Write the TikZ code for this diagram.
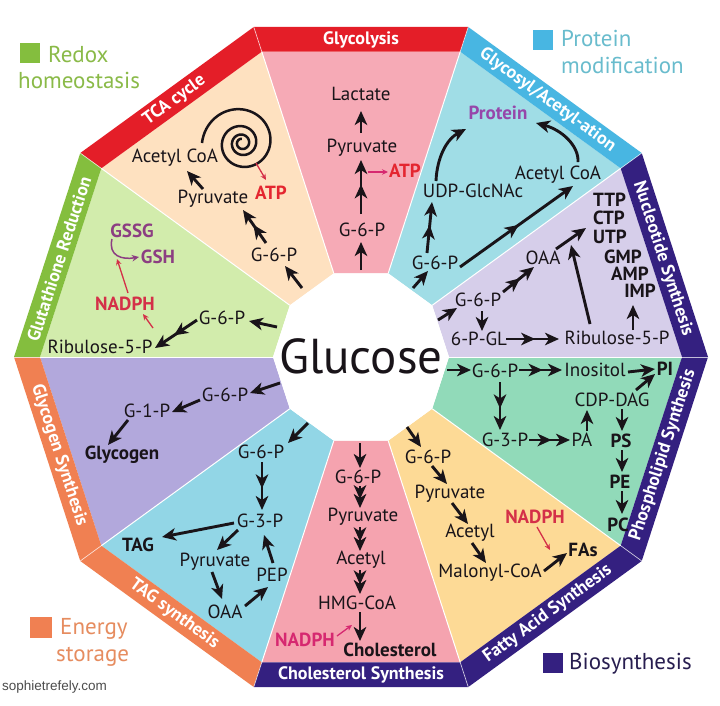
\documentclass[tikz,border=0pt]{standalone}
\usepackage{fontspec}
\setmainfont{PT Sans}
\newfontfamily\webfont{Liberation Sans}
\usetikzlibrary{arrows.meta,decorations.markings}
\definecolor{txt}{RGB}{25,20,25}
\definecolor{sGlycolysis}{RGB}{246,170,182}
\definecolor{sGlycosyl}{RGB}{160,221,230}
\definecolor{sNuc}{RGB}{214,206,234}
\definecolor{sPhos}{RGB}{145,218,185}
\definecolor{sFat}{RGB}{253,218,150}
\definecolor{sChol}{RGB}{245,163,175}
\definecolor{sTAG}{RGB}{146,214,230}
\definecolor{sGlycogen}{RGB}{178,168,220}
\definecolor{sGlut}{RGB}{210,236,172}
\definecolor{sTCA}{RGB}{254,225,192}
\definecolor{bRed}{RGB}{228,30,40}
\definecolor{bBlue}{RGB}{72,182,226}
\definecolor{bPurple}{RGB}{52,32,128}
\definecolor{bOrange}{RGB}{240,128,82}
\definecolor{bGreen}{RGB}{132,190,62}
\definecolor{atpred}{RGB}{228,38,48}
\definecolor{nadred}{RGB}{212,48,72}
\definecolor{nadmag}{RGB}{214,40,112}
\definecolor{protpurple}{RGB}{150,70,170}
\definecolor{gshpurple}{RGB}{140,62,130}
\definecolor{legGreen}{RGB}{138,186,72}
\definecolor{legBlue}{RGB}{105,188,205}
\definecolor{legOrange}{RGB}{230,140,95}
\definecolor{legPurple}{RGB}{40,30,80}
\begin{document}
\begin{tikzpicture}[x=1pt,y=-1pt,
  arr/.style={line width=2.9pt, draw=txt, -{Stealth[length=14pt,width=12.5pt,inset=4pt]}},
  dbl/.style={arr, postaction={decorate}, decoration={markings, mark=at position #1 with {\arrow{Stealth[length=14pt,width=12.5pt,inset=4pt]}}}},
  dbl/.default=0.55,
  redarr/.style={line width=1.3pt, -{Stealth[length=6pt,width=5.5pt]}},
  it/.style={font=\fontsize{19}{21}\selectfont, text=txt, inner sep=0pt},
  itb/.style={font=\fontsize{19}{21}\selectfont\bfseries, text=txt, inner sep=0pt},
  bandlab/.style={font=\fontsize{18}{20}\selectfont\bfseries, text=white, inner sep=0pt},
  leg/.style={font=\fontsize{23}{25}\selectfont, inner sep=0pt, anchor=west}]
\useasboundingbox (0,0) rectangle (720,705);
\fill[white] (0,0) rectangle (720,705);
% sectors and bands
\foreach \a/\sc/\bc in {0/sNuc/bPurple, 36/sGlycosyl/bBlue, 72/sGlycolysis/bRed, 108/sTCA/bRed, 144/sGlut/bGreen, 180/sGlycogen/bOrange, 216/sTAG/bOrange, 252/sChol/bPurple, 288/sFat/bPurple, 324/sPhos/bPurple}{
  \pgfmathsetmacro\b{\a+36}
  \fill[\sc] ({361+88*cos(\a)},{357-88*sin(\a)}) -- ({361+321*cos(\a)},{357-321*sin(\a)}) -- ({361+321*cos(\b)},{357-321*sin(\b)}) -- ({361+88*cos(\b)},{357-88*sin(\b)}) -- cycle;
  \fill[\bc] ({361+321*cos(\a)},{357-321*sin(\a)}) -- ({361+347*cos(\a)},{357-347*sin(\a)}) -- ({361+347*cos(\b)},{357-347*sin(\b)}) -- ({361+321*cos(\b)},{357-321*sin(\b)}) -- cycle;
}
\foreach \a in {0,36,...,324}{
  \draw[white, line width=1pt] ({361+88*cos(\a)},{357-88*sin(\a)}) -- ({361+321*cos(\a)},{357-321*sin(\a)});
  \draw[white, line width=0.7pt, opacity=0.7] ({361+321*cos(\a)},{357-321*sin(\a)}) -- ({361+347*cos(\a)},{357-347*sin(\a)});
}
\fill[white] (449,357) \foreach \a in {36,72,...,324}{ -- ({361+88*cos(\a)},{357-88*sin(\a)}) } -- cycle;
% band labels
\node[bandlab, rotate=-72] (lbNuc) at ({361+317.5*cos(18)},{357-317.5*sin(18)}) {Nucleotide Synthesis};
\node[bandlab, rotate=-36] (lbGly) at ({361+317.5*cos(54)},{357-317.5*sin(54)}) {Glycosyl/Acetyl-ation};
\node[bandlab] (lbGlyco) at ({361+317.5*cos(90)},{357-317.5*sin(90)}) {Glycolysis};
\node[bandlab, rotate=36] (lbTCA) at ({361+317.5*cos(126)},{357-317.5*sin(126)}) {TCA cycle};
\node[bandlab, rotate=72] (lbGlut) at ({361+317.5*cos(162)},{357-317.5*sin(162)}) {Glutathione Reduction};
\node[bandlab, rotate=-72] (lbGlyg) at ({361+317.5*cos(198)},{357-317.5*sin(198)}) {Glycogen Synthesis};
\node[bandlab, rotate=-36] (lbTAG) at ({361+317.5*cos(234)},{357-317.5*sin(234)}) {TAG synthesis};
\node[bandlab] (lbChol) at ({361+317.5*cos(270)},{357-317.5*sin(270)}) {Cholesterol Synthesis};
\node[bandlab, rotate=36] (lbFat) at ({361+317.5*cos(306)},{357-317.5*sin(306)}) {Fatty Acid Synthesis};
\node[bandlab, rotate=72] (lbPhos) at ({361+317.5*cos(342)},{357-317.5*sin(342)}) {Phospholipid Synthesis};
% centre
\node[font=\fontsize{49}{51}\selectfont, text=txt, inner sep=0pt] (glu) at (361,356) {Glucose};
% ---------- Glycolysis
\node[it] (lac) at (361,94) {Lactate};
\node[it] (pyr1) at (362,148) {Pyruvate};
\node[itb, text=atpred] (atp1) at (405,171) {ATP};
\node[it] (g1) at (362,230) {G-6-P};
\draw[arr] ([shift={(0,-86)}]glu.center) -- ([shift={(-1,12)}]g1.center);
\draw[dbl] ([shift={(-1,-16)}]g1.center) -- ([shift={(-1,12)}]pyr1.center);
\draw[arr] ([shift={(-1,-15)}]pyr1.center) -- ([shift={(0,17)}]lac.center);
\coordinate (atpsrc) at (368,172);
\draw[redarr, draw=nadmag] (atpsrc) -- ([shift={(-17,1)}]atp1.center);
% ---------- TCA
\node[it] (acoa1) at (175,158) {Acetyl CoA};
\node[it] (pyr2) at (213,199) {Pyruvate};
\node[itb, text=atpred] (atp2) at (271,193) {ATP};
\node[it] (g2) at (274,255) {G-6-P};
\draw[line width=2.5pt, txt] plot[domain=0:3.25, samples=220, smooth] ({242-40*pow(2,-\x)*cos(360*\x)}, {143-40*pow(2,-\x)*sin(360*\x)});
\draw[arr] ([shift={(-59,-68)}]glu.center) -- ([shift={(11,11)}]g2.center);
\draw[dbl] ([shift={(-8,-12)}]g2.center) -- ([shift={(30,11)}]pyr2.center);
\draw[arr] ([shift={(-10,-10)}]pyr2.center) -- ([shift={(12,13)}]acoa1.center);
\coordinate (spiralpt) at (256,163);
\draw[redarr, draw=nadred] (spiralpt) -- ([shift={(-5,-13)}]atp2.center);
% ---------- Glutathione
\node[itb, text=gshpurple] (gssg) at (132,231) {GSSG};
\node[itb, text=gshpurple] (gsh) at (158,257) {GSH};
\node[itb, text=nadred] (nadph1) at (125,304) {NADPH};
\node[it] (g10) at (222,318) {G-6-P};
\node[it] (rib2) at (100,347) {Ribulose-5-P};
\draw[arr] ([shift={(-84,-29)}]glu.center) -- ([shift={(27,3)}]g10.center);
\draw[dbl] ([shift={(-25,2)}]g10.center) -- ([shift={(55,1)}]rib2.center);
\draw[line width=1.5pt, gshpurple, -{Stealth[length=7pt,width=6.5pt]}] ([shift={(-20,8)}]gssg.center) .. controls (108,256) and (122,260) .. ([shift={(-19,0)}]gsh.center);
\coordinate (gshcurve) at (117,259);
\draw[redarr, draw=nadred] ([shift={(3,-11)}]nadph1.center) -- (gshcurve);
\coordinate (ribsrc) at (153,328);
\draw[redarr, draw=nadred] (ribsrc) -- ([shift={(18,10)}]nadph1.center);
% ---------- Glycogen
\node[it] (g9) at (225,395) {G-6-P};
\node[it] (g1p) at (147,411) {G-1-P};
\node[itb] (glyc) at (122,455) {Glycogen};
\draw[arr] ([shift={(-81,27)}]glu.center) -- ([shift={(25,-2)}]g9.center);
\draw[arr] ([shift={(-25,5)}]g9.center) -- ([shift={(25,1)}]g1p.center);
\draw[arr] ([shift={(-19,9)}]g1p.center) -- ([shift={(-14,-10)}]glyc.center);
% ---------- TAG
\node[it] (g8) at (261,452) {G-6-P};
\node[it] (g3p2) at (260,521) {G-3-P};
\node[itb] (tag) at (138,545) {TAG};
\node[it] (pyr5) at (215,562) {Pyruvate};
\node[it] (oaa2) at (225,612) {OAA};
\node[it] (pep) at (272,575) {PEP};
\draw[arr] ([shift={(-53,67)}]glu.center) -- ([shift={(27,-9)}]g8.center);
\draw[dbl] ([shift={(1,10)}]g8.center) -- ([shift={(2,-11)}]g3p2.center);
\draw[arr] ([shift={(-26,2)}]g3p2.center) -- ([shift={(24,-8)}]tag.center);
\draw[arr] ([shift={(-22,9)}]g3p2.center) -- ([shift={(2,-12)}]pyr5.center);
\draw[arr] ([shift={(-3,10)}]pyr5.center) -- ([shift={(-3,-13)}]oaa2.center);
\draw[arr] ([shift={(20,-6)}]oaa2.center) -- ([shift={(-4,12)}]pep.center);
\draw[arr] ([shift={(1,-12)}]pep.center) -- ([shift={(4,14)}]g3p2.center);
% ---------- Cholesterol
\node[it] (g7) at (358,477) {G-6-P};
\node[it] (pyr4) at (363,517) {Pyruvate};
\node[it] (acet3) at (361,560) {Acetyl};
\node[it] (hmg) at (357,603) {HMG-CoA};
\node[itb] (chol) at (390,650) {Cholesterol};
\node[itb, text=nadmag] (nadph3) at (305,640) {NADPH};
\draw[arr] ([shift={(-1,87)}]glu.center) -- ([shift={(2,-9)}]g7.center);
\draw[dbl=0.6] ([shift={(2,9)}]g7.center) -- ([shift={(-3,-9)}]pyr4.center);
\draw[dbl=0.6] ([shift={(-3,10)}]pyr4.center) -- ([shift={(-1,-9)}]acet3.center);
\draw[dbl=0.6] ([shift={(-1,10)}]acet3.center) -- ([shift={(3,-9)}]hmg.center);
\draw[arr] ([shift={(3,9)}]hmg.center) -- ([shift={(-30,-9)}]chol.center);
\coordinate (cholin) at (352,625);
\draw[redarr, draw=nadmag] ([shift={(32,-4)}]nadph3.center) -- (cholin);
% ---------- Fatty acid
\node[it] (g6) at (428,457) {G-6-P};
\node[it] (pyr3) at (450,494) {Pyruvate};
\node[it] (acet2) at (470,533) {Acetyl};
\node[it] (mal) at (490,573) {Malonyl-CoA};
\node[itb] (fas) at (583,550) {FAs};
\node[itb, text=nadred] (nadph2) at (535,517) {NADPH};
\draw[arr] ([shift={(46,71)}]glu.center) -- ([shift={(-7,-10)}]g6.center);
\draw[arr] ([shift={(4,9)}]g6.center) -- ([shift={(-3,-10)}]pyr3.center);
\draw[arr] ([shift={(2,9)}]pyr3.center) -- ([shift={(-2,-9)}]acet2.center);
\draw[arr] ([shift={(2,10)}]acet2.center) -- ([shift={(-4,-10)}]mal.center);
\draw[arr] ([shift={(54,-2)}]mal.center) -- ([shift={(-16,3)}]fas.center);
\coordinate (fain) at (550,550);
\draw[redarr, draw=nadred] ([shift={(2,10)}]nadph2.center) -- (fain);
% ---------- Phospholipid
\node[it] (g5) at (495,371) {G-6-P};
\node[it] (ino) at (595,370) {Inositol};
\node[itb] (pi) at (665,369) {PI};
\node[it] (cdp) at (612,400) {CDP-DAG};
\node[it] (g3p1) at (505,440) {G-3-P};
\node[it] (pa) at (582,440) {PA};
\node[itb] (ps) at (621,441) {PS};
\node[itb] (pe) at (620,482) {PE};
\node[itb] (pc) at (618,525) {PC};
\draw[arr] ([shift={(86,14)}]glu.center) -- ([shift={(-24,-1)}]g5.center);
\draw[dbl] ([shift={(24,-1)}]g5.center) -- ([shift={(-33,0)}]ino.center);
\draw[arr] ([shift={(33,2)}]ino.center) -- ([shift={(-10,0)}]pi.center);
\draw[arr] ([shift={(24,-10)}]cdp.center) -- ([shift={(-10,5)}]pi.center);
\draw[dbl] ([shift={(5,11)}]g5.center) -- ([shift={(-5,-10)}]g3p1.center);
\draw[dbl] ([shift={(24,0)}]g3p1.center) -- ([shift={(-12,0)}]pa.center);
\draw[arr] ([shift={(5,-9)}]pa.center) -- ([shift={(-25,10)}]cdp.center);
\draw[arr] ([shift={(10,9)}]cdp.center) -- ([shift={(1,-10)}]ps.center);
\draw[arr] ([shift={(1,9)}]ps.center) -- ([shift={(2,-10)}]pe.center);
\draw[arr] ([shift={(2,9)}]pe.center) -- ([shift={(4,-11)}]pc.center);
% ---------- Nucleotide
\node[itb, anchor=west] (ttp) at (593,200) {TTP};
\node[itb, anchor=west] (ctp) at (593,218) {CTP};
\node[itb, anchor=west] (utp) at (593,237) {UTP};
\node[itb, anchor=east] (gmp) at (642,257) {GMP};
\node[itb, anchor=east] (amp) at (649,274) {AMP};
\node[itb, anchor=east] (imp) at (656,291) {IMP};
\node[it] (oaa1) at (543,258) {OAA};
\node[it] (g4) at (478,300) {G-6-P};
\node[it] (pgl) at (479,339) {6-P-GL};
\node[it] (rib1) at (617,338) {Ribulose-5-P};
\draw[arr] ([shift={(77,-36)}]glu.center) -- ([shift={(-21,8)}]g4.center);
\draw[dbl] ([shift={(25,-8)}]g4.center) -- ([shift={(-9,9)}]oaa1.center);
\draw[arr] ([shift={(13,-9)}]oaa1.center) -- ([shift={(-7,-9)}]utp.west);
\draw[arr] ([shift={(-27,-14)}]rib1.center) -- ([shift={(-22,8)}]utp.west);
\draw[arr] ([shift={(16,-8)}]rib1.center) -- ([shift={(-23,14)}]imp.east);
\draw[arr] ([shift={(4,11)}]g4.center) -- ([shift={(3,-8)}]pgl.center);
\draw[dbl] ([shift={(27,0)}]pgl.center) -- ([shift={(-58,1)}]rib1.center);
% ---------- Glycosyl / acetylation
\node[itb, text=protpurple] (prot) at (498,113) {Protein};
\node[it] (udp) at (473,191) {UDP-GlcNAc};
\node[it] (acoa2) at (558,175) {Acetyl CoA};
\node[it] (g3) at (435,263) {G-6-P};
\draw[arr] ([shift={(52,-68)}]glu.center) -- ([shift={(-7,8)}]g3.center);
\draw[dbl] ([shift={(-8,-10)}]g3.center) -- ([shift={(-41,11)}]udp.center);
\draw[dbl=0.52] ([shift={(25,4)}]g3.center) -- ([shift={(15,11)}]acoa2.center);
\draw[arr] ([shift={(-37,-10)}]udp.center) .. controls (437,157) and (447,139) .. ([shift={(-32,16)}]prot.center);
\draw[arr] ([shift={(20,-13)}]acoa2.center) .. controls (579,146) and (562,130) .. ([shift={(38,10)}]prot.center);
% ---------- legend
\fill[bGreen] (20,43) rectangle (40,63);
\node[leg, text=legGreen] (lgRedox) at (48,54) {Redox};
\node[leg, text=legGreen] (lgRedox2) at (18,80) {homeostasis};
\fill[bBlue] (533,30) rectangle (553,50);
\node[leg, text=legBlue] (lgProt) at (561,38) {Protein};
\node[leg, text=legBlue] (lgProt2) at (561,65) {modification};
\fill[bOrange] (30,617) rectangle (52,638);
\node[leg, text=legOrange] (lgEn) at (60,629) {Energy};
\node[leg, text=legOrange] (lgEn2) at (56,657) {storage};
\fill[bPurple] (543,653) rectangle (563,673);
\node[leg, text=legPurple] (lgBio) at (569,664) {Biosynthesis};
\node[anchor=west, inner sep=0pt, font=\webfont\fontsize{13.5}{15}\selectfont, text=black!70] (web) at (2,687) {sophietrefely.com};
\end{tikzpicture}
\end{document}
